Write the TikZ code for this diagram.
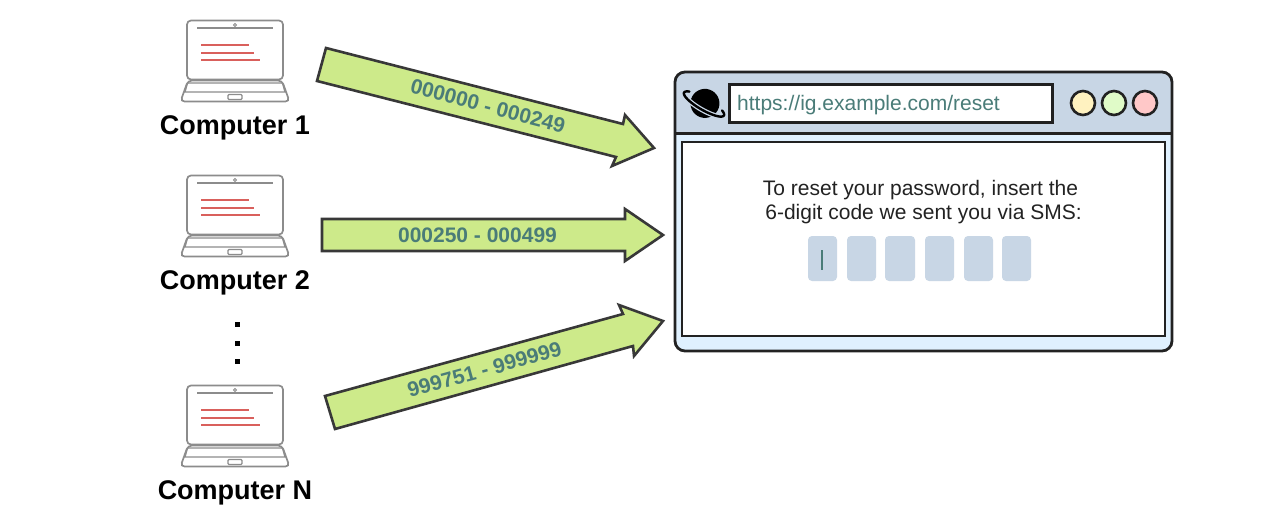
\documentclass[tikz,border=0pt]{standalone}
\usepackage{fontspec}
\setmainfont{Liberation Sans}
\definecolor{ink}{HTML}{222222}
\definecolor{barblue}{HTML}{C8D6E5}
\definecolor{paleblue}{HTML}{DFF0FE}
\definecolor{arrowgreen}{HTML}{CDEA8A}
\definecolor{teal}{HTML}{4A7C78}
\definecolor{lapgray}{HTML}{8C8C8C}
\definecolor{lapred}{HTML}{D9605C}
\definecolor{lampyellow}{HTML}{FFF2C0}
\definecolor{lampgreen}{HTML}{E0FBC8}
\definecolor{lampred}{HTML}{FFC8C8}
\tikzset{
  bigarrow/.style={draw=ink!90,line width=2.6pt,fill=arrowgreen,line join=miter},
  arrowtext/.style={font=\fontsize{21}{24}\selectfont\bfseries,text=teal,inner sep=0pt},
  complabel/.style={font=\fontsize{27}{30}\selectfont\bfseries,text=black,inner sep=0pt},
  codebox/.style={fill=barblue,rounded corners=4pt},
  lampdot/.style={draw=ink,line width=2.6pt},
  bodytext/.style={inner sep=0pt,text=ink,font=\fontsize{21}{24}\selectfont},
  laptop/.pic={
    \draw[lapgray,line width=1.7pt,rounded corners=4pt] (187,79.5) -- (187,20.5) -- (283,20.5) -- (283,79.5) -- cycle;
    \draw[lapgray,line width=1.6pt] (197,28) -- (273,28);
    \draw[lapgray,line width=.8pt] (235,25) circle (1.5);
    \draw[lapred,line width=1.4pt] (201,45) -- (249,45);
    \draw[lapred,line width=1.4pt] (201,53) -- (254,53);
    \draw[lapred,line width=1.4pt] (201,60) -- (260,60);
    \draw[lapgray,line width=1.7pt,rounded corners=4pt] (188,80.5) -- (282,80.5) -- (289.5,101.5) -- (180.5,101.5) -- cycle;
    \draw[lapgray,line width=1.3pt] (187.5,83) -- (282.5,83) -- (285,92) -- (185,92) -- cycle;
    \draw[lapgray,line width=1.3pt,rounded corners=1pt,fill=white] (228,94.5) rectangle (242,99.5);
  }
}
\begin{document}
\begin{tikzpicture}[x=1pt,y=-1pt]
\useasboundingbox[fill=white] (0,0) rectangle (1261,516);

% laptops
\pic at (0,0) {laptop};
\pic at (0,155) {laptop};
\pic at (0,365) {laptop};
\node[complabel] (c1) at (235,128) {Computer 1};
\node[complabel] (c2) at (235,283) {Computer 2};
\node[complabel] (cn) at (235,493) {Computer N};
\fill (234.5,321.5) rectangle (239.5,326.5);
\fill (234.5,340.5) rectangle (239.5,345.5);
\fill (234.5,358.5) rectangle (239.5,363.5);

% arrows
\draw[bigarrow] (326,48) -- (623,124) -- (625,115) -- (654,148) -- (612,166) -- (616,157) -- (317,81) -- cycle;
\draw[bigarrow] (322,219) -- (625,219) -- (625,209) -- (663,235) -- (625,261) -- (625,251) -- (322,251) -- cycle;
\draw[bigarrow] (325,396) -- (623,314) -- (619,305) -- (663,321) -- (634,356) -- (633,346) -- (335,429) -- cycle;
\node[arrowtext,rotate=-14.6] (r1) at (488,106) {000000 - 000249};
\node[arrowtext] (r2) at (477.5,235) {000250 - 000499};
\node[arrowtext,rotate=15.4] (r3) at (484.5,369.5) {999751 - 999999};

% browser
\fill[paleblue,rounded corners=10pt] (675,72) rectangle (1172,351);
\fill[barblue,rounded corners=10pt] (675,133) -- (675,72) -- (1172,72) -- (1172,133) -- cycle;
\fill[barblue] (675,100) rectangle (1172,133);
\draw[ink,line width=2.8pt,rounded corners=10pt] (675,72) rectangle (1172,351);
\draw[ink,line width=2.4pt] (675,133.5) -- (1172,133.5);
\draw[ink,line width=2pt,fill=white] (682,142) rectangle (1165,336);
\draw[ink!95!black,line width=3pt,fill=white] (729.5,84.5) rectangle (1052,122.5);
\node[anchor=base west,inner sep=0pt,text=teal,font=\fontsize{21}{24}\selectfont] (url) at (737,111) {https://ig.example.com/reset};
\draw[lampdot,fill=lampyellow] (1083,103) circle (12);
\draw[lampdot,fill=lampgreen] (1114,103) circle (12);
\draw[lampdot,fill=lampred] (1145,103) circle (12);

% planet
\begin{scope}[shift={(704,104)},rotate=-30]
  \fill[black] (0.5,-1) circle (14.5);
  \draw[barblue,line width=5pt] plot[smooth,domain=35:145,samples=20] ({23*cos(\x)},{6*sin(\x)});
  \draw[black,line width=2.4pt,line cap=round] plot[smooth,domain=-35:215,samples=40] ({23*cos(\x)},{6*sin(\x)});
\end{scope}

% message
\node[bodytext] (m1) at (920.5,190) {To reset your password, insert the};
\node[bodytext] (m2) at (923.5,214) {6-digit code we sent you via SMS:};

% code boxes
\fill[codebox] (808,236) rectangle (837,281);
\fill[codebox] (847,236) rectangle (876,281);
\fill[codebox] (885,236) rectangle (915,281);
\fill[codebox] (925,236) rectangle (954,281);
\fill[codebox] (964,236) rectangle (993,281);
\fill[codebox] (1002,236) rectangle (1031,281);
\draw[teal,line width=1.2pt] (822,250) -- (822,270);
\end{tikzpicture}
\end{document}
